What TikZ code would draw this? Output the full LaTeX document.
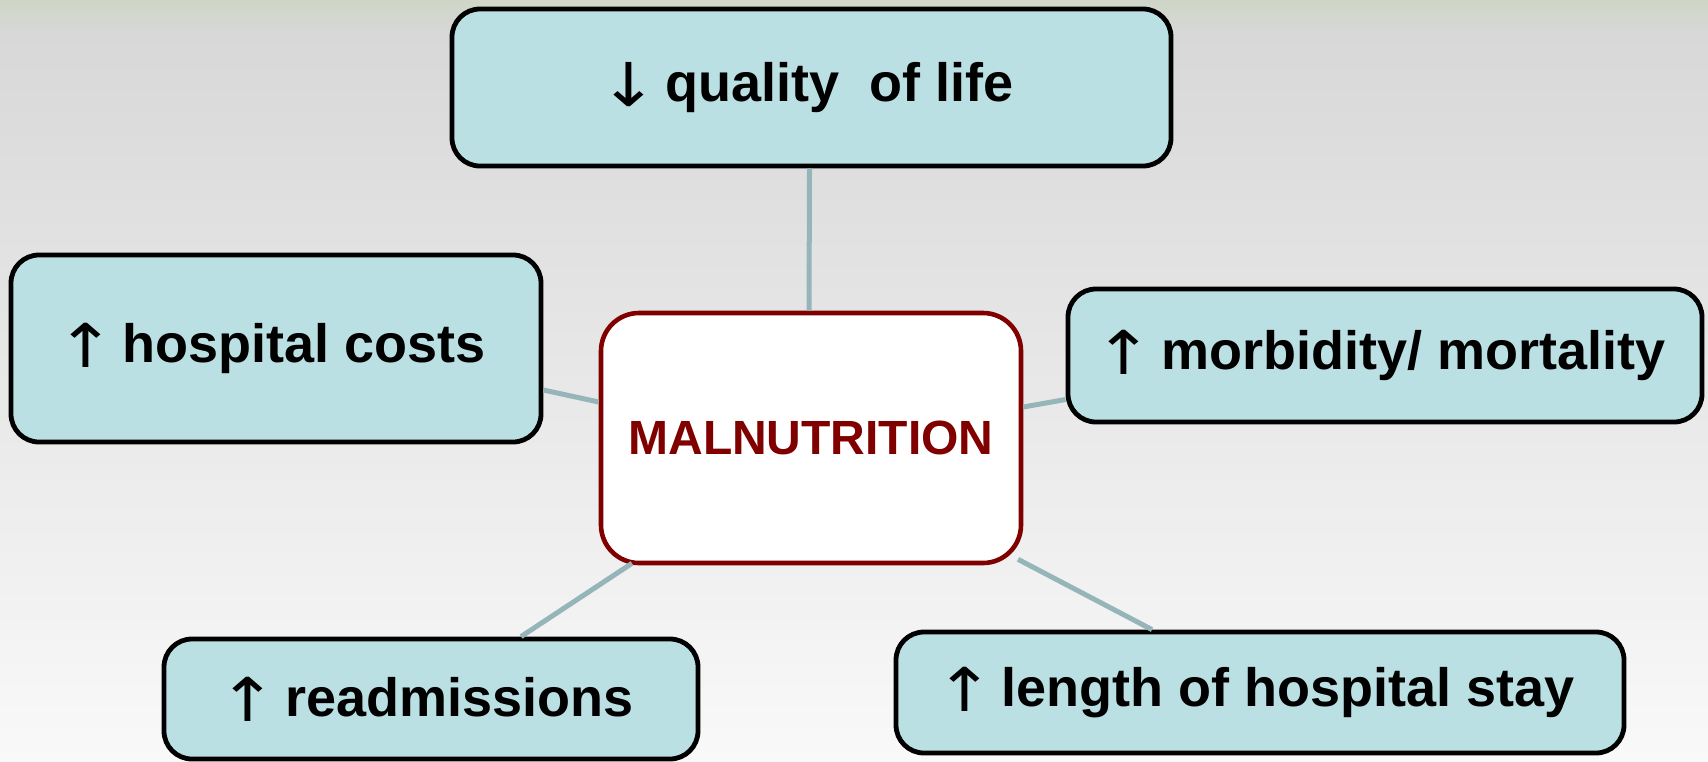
\documentclass[tikz,border=0pt]{standalone}
\usepackage{fontspec}
\setmainfont{Liberation Sans}
\newfontfamily\arrowfont{DejaVu Sans}

\definecolor{boxfill}{RGB}{187,224,227}
\definecolor{linkgray}{RGB}{150,181,185}
\definecolor{malred}{RGB}{128,0,0}
\definecolor{bgtint}{RGB}{207,214,199}
\definecolor{bgtop}{RGB}{216,216,216}
\definecolor{bgbottom}{RGB}{249,249,249}

\newcommand{\upmark}{\hspace{-5pt}\raisebox{-2.5pt}{\scalebox{1.3}[1.12]{\arrowfont\mdseries ↑}}\hspace{-3.8pt}}
\newcommand{\downmark}{\hspace{-5pt}\raisebox{-2.5pt}{\scalebox{1.3}[1.12]{\arrowfont\mdseries ↓}}\hspace{-3.8pt}}

\begin{document}
\begin{tikzpicture}[
    x=0.5pt, y=-0.5pt,
    effect/.style={
      rectangle, draw=black, line width=2.4pt, fill=boxfill,
      rounded corners=14pt, inner sep=0pt,
      font=\fontsize{27}{33}\selectfont\bfseries
    },
    core/.style={
      rectangle, draw=malred, line width=2.3pt, fill=white,
      rounded corners=19pt, inner sep=0pt, text=malred,
      font=\fontsize{24}{29}\selectfont\bfseries
    },
    link/.style={draw=linkgray, line width=2.5pt}
  ]
  % background
  \shade[top color=bgtint, bottom color=bgtop] (0,0) rectangle (1708,36);
  \shade[top color=bgtop, bottom color=bgbottom] (0,35) rectangle (1708,761);

  \node[core, minimum width=210pt, minimum height=125pt] (maln) at (811,438) {MALNUTRITION};

  \node[effect, minimum width=359.5pt, minimum height=78.5pt] (qol) at (811.5,87.5)
    {\downmark{} quality\ \ of life};
  \node[effect, minimum width=265pt, minimum height=93.5pt] (costs) at (276,348.5)
    {\upmark{} hospital costs};
  \node[effect, minimum width=317pt, minimum height=66.5pt] (morb) at (1385,355.5)
    {\upmark{} morbidity/ mortality};
  \node[effect, minimum width=267pt, minimum height=60pt] (readm) at (431,699)
    {\upmark{} readmissions};
  \node[effect, minimum width=364pt, minimum height=60.5pt] (stay) at (1260,692.5)
    {\upmark{} length of hospital stay};

  % spokes
  \draw[link] ([xshift=-1pt]qol.south) -- ([xshift=-1pt]maln.north);
  \draw[link] ([yshift=-20.75pt]costs.east) -- ([yshift=18pt]maln.west);
  \draw[link] ([yshift=15.5pt]maln.east) -- ([yshift=-22pt]morb.west);
  \draw[link] ([xshift=-89.5pt,yshift=1pt]maln.south) -- ([xshift=45pt]readm.north);
  \draw[link] ([xshift=103.5pt,yshift=3pt]maln.south) -- ([xshift=-54pt]stay.north);

  \useasboundingbox (0,0) rectangle (1708,761);
\end{tikzpicture}
\end{document}
